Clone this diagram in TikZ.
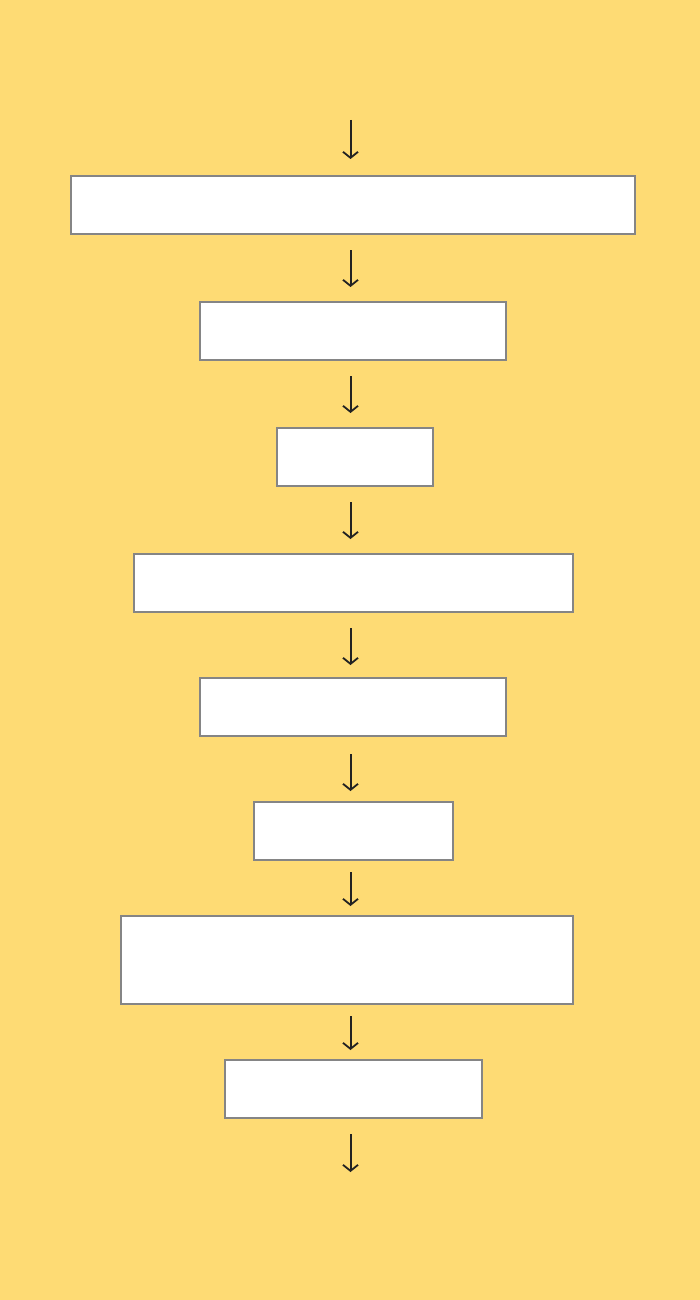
\documentclass[tikz,border=0pt]{standalone}
\usetikzlibrary{arrows.meta}
\definecolor{bgyellow}{HTML}{FEDB74}
\definecolor{boxgray}{HTML}{858585}
\definecolor{arrowdark}{HTML}{222222}
\begin{document}
\begin{tikzpicture}[x=1pt,y=-1pt,
  flowbox/.style={draw=boxgray,line width=2pt,fill=white,inner sep=0pt,anchor=north west},
  flowarrow/.style={draw=arrowdark,line width=2pt,-{Straight Barb[length=6pt,width=15pt,line width=1.8pt]}}]
\fill[bgyellow] (0,0) rectangle (700,1300);
\useasboundingbox (0,0) rectangle (700,1300);
\node[flowbox,minimum width=564pt,minimum height=58pt] (b1) at (70,175) {};
\node[flowbox,minimum width=306pt,minimum height=58pt] (b2) at (199,301) {};
\node[flowbox,minimum width=156pt,minimum height=58pt] (b3) at (276,427) {};
\node[flowbox,minimum width=439pt,minimum height=58pt] (b4) at (133,553) {};
\node[flowbox,minimum width=306pt,minimum height=58pt] (b5) at (199,677) {};
\node[flowbox,minimum width=199pt,minimum height=58pt] (b6) at (253,801) {};
\node[flowbox,minimum width=452pt,minimum height=88pt] (b7) at (120,915) {};
\node[flowbox,minimum width=257pt,minimum height=58pt] (b8) at (224,1059) {};
\coordinate (ax) at (350.5,0);
\coordinate (top) at (350.5,120);
\coordinate (bot) at (350.5,1172);
\draw[flowarrow,shorten >=16pt] (top) -- (b1.north -| ax);
\draw[flowarrow,shorten <=15pt,shorten >=14pt] (b1.south -| ax) -- (b2.north -| ax);
\draw[flowarrow,shorten <=15pt,shorten >=14pt] (b2.south -| ax) -- (b3.north -| ax);
\draw[flowarrow,shorten <=15pt,shorten >=14pt] (b3.south -| ax) -- (b4.north -| ax);
\draw[flowarrow,shorten <=15pt,shorten >=12pt] (b4.south -| ax) -- (b5.north -| ax);
\draw[flowarrow,shorten <=17pt,shorten >=10pt] (b5.south -| ax) -- (b6.north -| ax);
\draw[flowarrow,shorten <=11pt,shorten >=9pt] (b6.south -| ax) -- (b7.north -| ax);
\draw[flowarrow,shorten <=11pt,shorten >=9pt] (b7.south -| ax) -- (b8.north -| ax);
\draw[flowarrow,shorten <=15pt] (b8.south -| ax) -- (bot);
\end{tikzpicture}
\end{document}
